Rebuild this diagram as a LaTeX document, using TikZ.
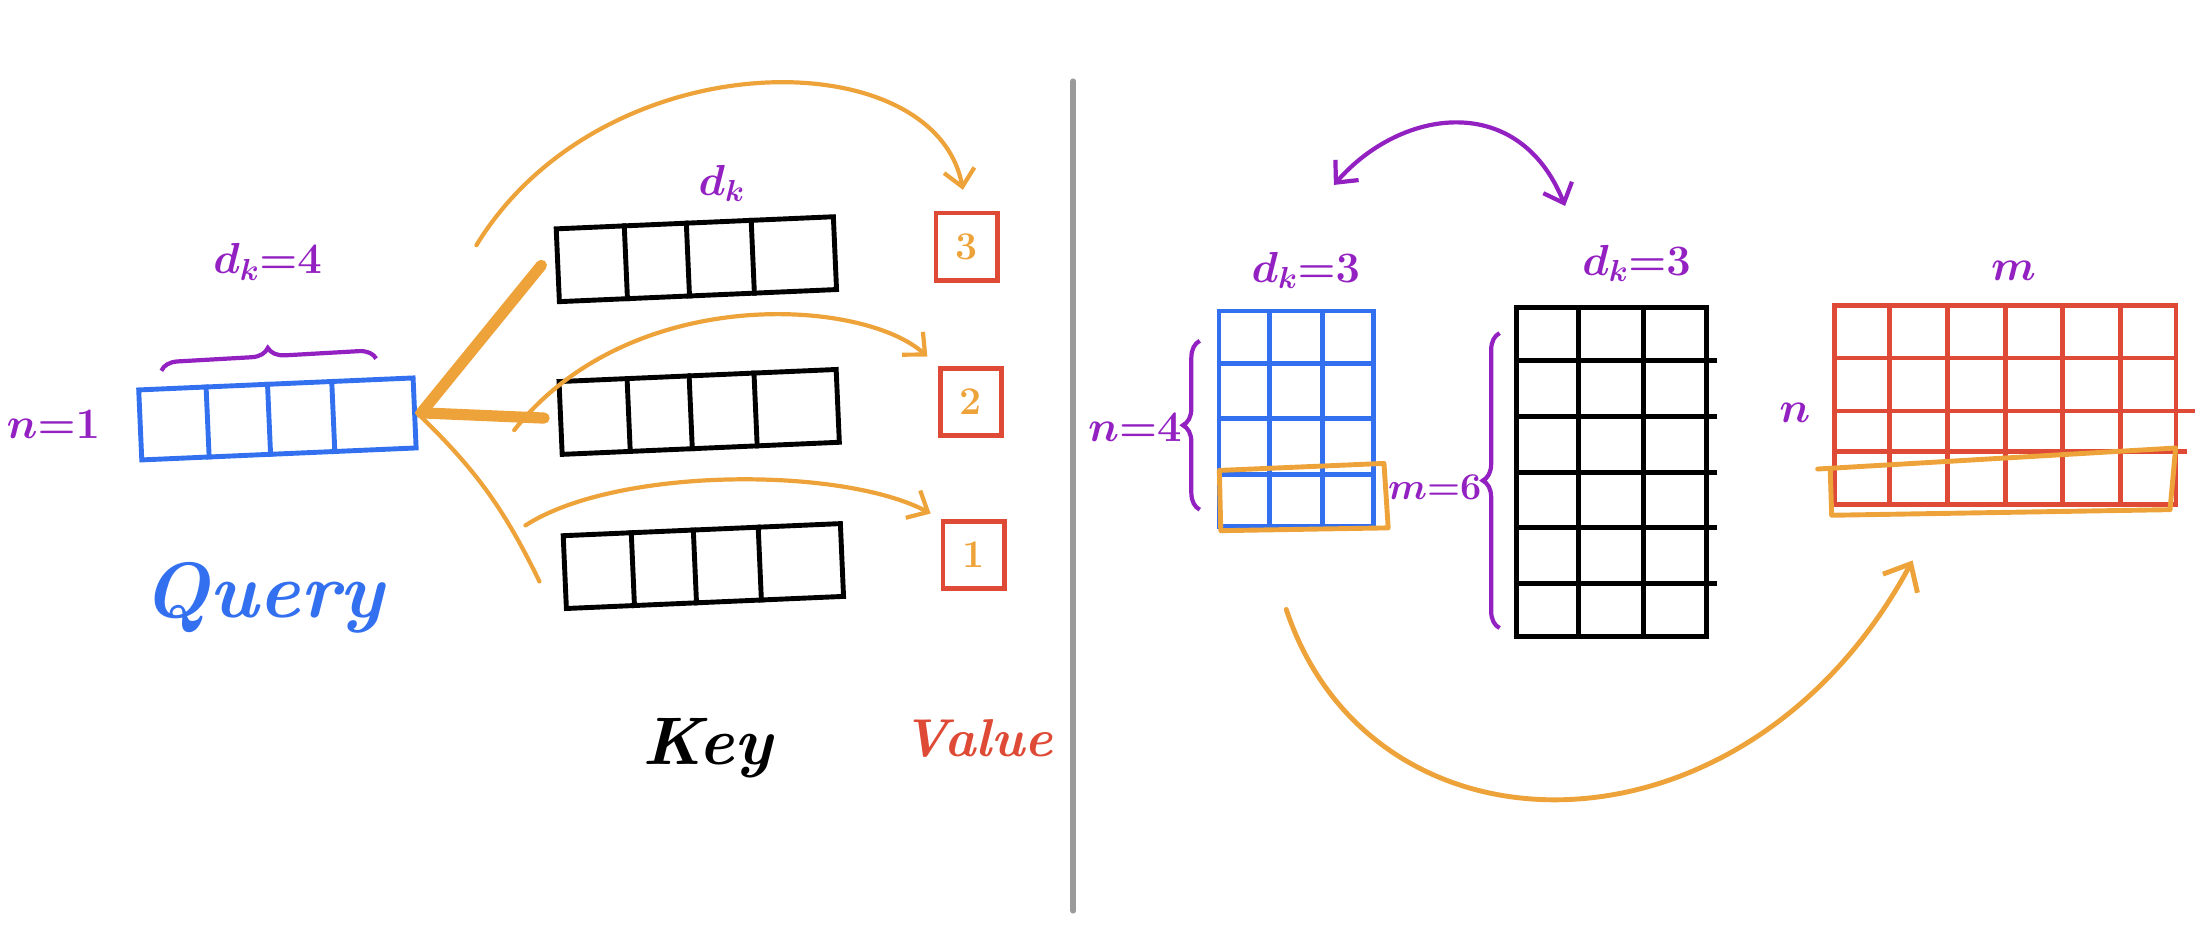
\RequirePackage{fix-cm}
\documentclass[tikz,border=0pt]{standalone}
\usepackage{fontspec}
\usepackage{tikz}
\usepackage{amsmath}
\usetikzlibrary{calc,arrows.meta,decorations.pathreplacing}
\definecolor{qblue}{HTML}{3370F0}
\definecolor{pviolet}{HTML}{9321C2}
\definecolor{korange}{HTML}{EDA33A}
\definecolor{vred}{HTML}{DE4A36}
\definecolor{divgray}{HTML}{9A9A9A}
\tikzset{vq/.style = {draw=qblue, line width=3.5pt, minimum width=196pt, minimum height=50pt, inner sep=0pt, rotate=2.5},
           vk/.style = {draw=black, line width=3.5pt, minimum width=198pt, minimum height=52pt, inner sep=0pt, rotate=2.5},
           vv/.style = {draw=vred, line width=3.5pt, minimum width=44pt, minimum height=48pt, inner sep=0pt, text=korange, font=\bfseries\fontsize{28}{32}\selectfont},
           mt/.style = {line width=3.5pt, inner sep=0pt},
           lb/.style = {text=pviolet, inner sep=0pt, font=\boldmath\fontsize{31}{36}\selectfont},
           tt/.style = {inner sep=0pt},
           fl/.style = {draw=korange, line width=3pt, line cap=round, -{Straight Barb[length=12pt,width=22pt]}},
           wd/.style = {draw=korange, line width=8pt, line cap=round},
           br/.style = {draw=pviolet, line width=3pt, decorate, decoration={brace, amplitude=12pt}}}
\begin{document}
\begin{tikzpicture}[x=1pt, y=1pt]
    \useasboundingbox (0,0) rectangle (1568,677);
    % left: one query against three keys
    \node[vq] (Q) at (198,378) {};
    \node[vk] (K3) at (497,492) {}; \node[vk] (K2) at (499,383) {}; \node[vk] (K1) at (502,273) {};
    \node[vv] (V3) at (690,501) {3}; \node[vv] (V2) at (693,390) {2}; \node[vv] (V1) at (695,281) {1};
    \foreach \f in {0.25,0.47,0.7}
      \draw[qblue, line width=3.5pt] ($(Q.north west)!\f!(Q.north east)$) -- ($(Q.south west)!\f!(Q.south east)$);
    \foreach \k in {K1,K2,K3}
      \foreach \f in {0.25,0.47,0.7}
        \draw[line width=3.5pt] ($(\k.north west)!\f!(\k.north east)$) -- ($(\k.south west)!\f!(\k.south east)$);
    \node[lb] (n1) at (38,374) {$n{=}1$};
    \node[lb] (dq) at (191,490) {$d_k{=}4$};
    \node[lb] (dk) at (515,546) {$d_k$};
    \draw[br] ($(Q.north west)+(18,12)$) -- ($(Q.north east)+(-28,12)$);
    \node[tt, text=qblue, font=\bfseries\itshape\fontsize{56}{60}\selectfont] (ql) at (188,250) {Query};
    \node[tt, font=\bfseries\itshape\fontsize{48}{54}\selectfont] (kl) at (505,143) {Key};
    \node[tt, text=vred, font=\bfseries\itshape\fontsize{38}{44}\selectfont] (vl) at (698,150) {Value};
    \draw[wd] ([xshift=3pt]Q.east) -- ([xshift=-10pt]K3.west);
    \draw[wd] ([xshift=3pt]Q.east) -- ([xshift=-10pt]K2.west);
    \coordinate (k1t) at (385,262);
    \draw[korange, line width=3pt, line cap=round] (Q.east) to[bend left=10] (k1t);
    \coordinate (a3) at (340,502); \coordinate (a2) at (367,370); \coordinate (a1) at (375,302);
    \draw[fl, shorten >=15pt] (a3) .. controls (430,649) and (667,649) .. (V3.north);
    \draw[fl, shorten >=10pt] (a2) .. controls (450,475) and (616,464) .. (V2.north west);
    \draw[fl, shorten >=8pt] (a1) .. controls (440,344) and (601,344) .. (V1.north west);
    % divider
    \coordinate (dtop) at (766,619); \coordinate (dbot) at (766,27);
    \draw[divgray, line width=4pt, line cap=round] (dtop) -- (dbot);
    % right: the matrix view
    \node[mt, draw=qblue, minimum width=110pt, minimum height=154pt] (QM) at (925,378) {};
    \node[mt, draw=black, minimum width=136pt, minimum height=235pt] (KM) at (1150,340) {};
    \node[mt, draw=vred, minimum width=244pt, minimum height=142pt] (RM) at (1431,388) {};
    \foreach \f in {1,2}
      \draw[qblue, line width=3.5pt] ($(QM.north west)!\f/3!(QM.north east)$) -- ($(QM.south west)!\f/3!(QM.south east)$);
    \foreach \f in {1,2,3}
      \draw[qblue, line width=3.5pt] ($(QM.south west)!\f/4!(QM.north west)$) -- ($(QM.south east)!\f/4!(QM.north east)$);
    \foreach \f in {1,2}
      \draw[line width=3.5pt] ($(KM.north west)!\f/3!(KM.north east)$) -- ($(KM.south west)!\f/3!(KM.south east)$);
    \foreach \f in {1,...,5}
      \draw[line width=3.5pt] ($(KM.south west)!\f/6!(KM.north west)$) -- ($(KM.south east)!\f/6!(KM.north east)+(6,0)$);
    \foreach \f in {1,...,5}
      \draw[vred, line width=3.5pt] ($(RM.north west)!\f/6!(RM.north east)$) -- ($(RM.south west)!\f/6!(RM.south east)$);
    \foreach \f/\e in {0.27/6,0.47/12,0.73/0}
      \draw[vred, line width=3.5pt] ($(RM.south west)!\f!(RM.north west)$) -- ($(RM.south east)!\f!(RM.north east)+(\e,0)$);
    \draw[korange, line width=3.5pt, line cap=round, line join=round] ($(QM.south west)+(3,-1)$) -- ($(QM.south east)+(9,1)$) -- ($(QM.south east)+(6,47)$) -- ($(QM.south west)+(2,42)$) -- cycle;
    \draw[korange, line width=3.5pt, line cap=round, line join=round] ($(RM.south west)+(-10,27)$) -- ($(RM.south east)+(-2,42)$) -- ($(RM.south east)+(-6,-2)$) -- ($(RM.south west)+(0,-6)$) -- ($(RM.south west)+(-1,26)$);
    \draw[br] ($(QM.south west)+(-12,14)$) -- ($(QM.north west)+(-12,-23)$);
    \draw[br] ($(KM.south west)+(-10,8)$) -- ($(KM.north west)+(-10,-20)$);
    \node[lb] (n4) at (810,372) {$n{=}4$};
    \node[lb, font=\boldmath\fontsize{27}{32}\selectfont] (m6) at (1024,329) {$m{=}6$};
    \node[lb] (dkq) at (932,484) {$d_k{=}3$};
    \node[lb] (dkk) at (1168,489) {$d_k{=}3$};
    \node[lb] (ml) at (1437,484) {$m$};
    \node[lb] (nl) at (1281,382) {$n$};
    \coordinate (swl) at (952,545); \coordinate (swr) at (1117,530);
    \draw[pviolet, line width=3pt, line cap=round, {Straight Barb[length=12pt,width=22pt]}-{Straight Barb[length=12pt,width=22pt]}] (swl) .. controls (1000,600) and (1084,612) .. (swr);
    \coordinate (qs) at (918,242); \coordinate (rt) at (1365,277);
    \draw[fl, line width=3.5pt, -{Straight Barb[length=16pt,width=28pt]}] (qs) .. controls (980,56) and (1246,56) .. (rt);
\end{tikzpicture}
\end{document}
